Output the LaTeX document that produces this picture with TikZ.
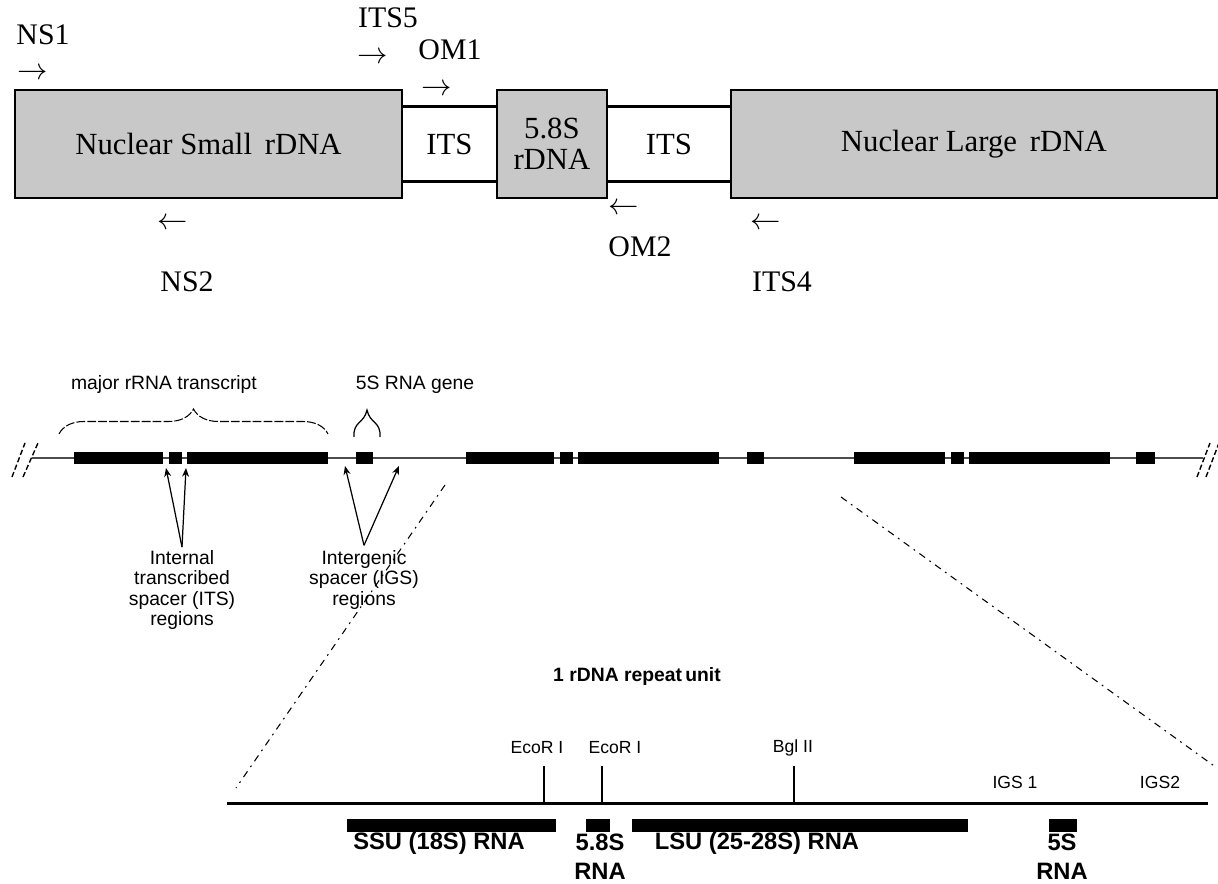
\documentclass[tikz,border=0pt]{standalone}
\usepackage{fontspec}
\setmainfont{Liberation Serif}
\setsansfont{Liberation Sans}
\usetikzlibrary{arrows.meta, positioning, decorations.pathreplacing}
\definecolor{cajagris}{RGB}{200,200,200}

\begin{document}
\begin{tikzpicture}[
    x=0.02cm, y=-0.02cm,
    gbox/.style={
        draw, line width=0.05cm, fill=cajagris,
        minimum height=2.16cm, inner sep=0pt, outer sep=0pt,
        align=center, font=\fontsize{17.5}{20}\selectfont
    },
    wbox/.style={gbox, fill=white, minimum height=1.5cm},
    primer/.style={font=\fontsize{17}{20}\selectfont, inner sep=0pt, anchor=base},
    pflecha/.style={primer, text height=8pt, text depth=0pt},
    etiq/.style={font=\sffamily\fontsize{11}{11.4}\selectfont, align=center, inner sep=0pt},
    sitio/.style={font=\sffamily\fontsize{10}{12}\selectfont, inner sep=0pt},
    negr/.style={font=\sffamily\bfseries\fontsize{13.5}{16.5}\selectfont, align=center, inner sep=0pt},
    flecha/.style={-{Stealth[length=5pt, width=4pt]}, line width=0.7pt},
    zoomline/.style={dash pattern=on 4pt off 3pt on 1pt off 3pt, line width=0.6pt},
    corte/.style={dash pattern=on 3pt off 1.5pt, line width=0.8pt}
]
\useasboundingbox (0,0) rectangle (1218,884);

% Cajas superiores
\node[gbox, minimum width=7.74cm] (nss) at (208.5,144) {Nuclear Small\, rDNA};
\node[wbox, minimum width=1.90cm, right=0pt of nss] (its1) {ITS};
\node[gbox, minimum width=2.20cm, right=0pt of its1] (r58) {5.8S\\[-2pt]rDNA};
\node[wbox, minimum width=2.48cm, right=0pt of r58] (its2) {ITS};
\node[gbox, minimum width=9.72cm, right=0pt of its2] (nls) {Nuclear Large\, rDNA};

% Cebadores (anclados en la linea base)
\node[primer] (ns1) at (43,45) {NS1};
\node[pflecha] (ns1a) at (33,80) {$\rightarrow$};
\node[primer] (its5) at (388,28) {ITS5};
\node[pflecha] (its5a) at (373,64) {$\rightarrow$};
\node[primer] (om1) at (450,60) {OM1};
\node[pflecha] (om1a) at (437,96) {$\rightarrow$};
\node[pflecha] (ns2a) at (173,229.5) {$\leftarrow$};
\node[primer] (ns2) at (187,292) {NS2};
\node[pflecha] (om2a) at (624,214.5) {$\leftarrow$};
\node[primer] (om2) at (640,257) {OM2};
\node[pflecha] (its4a) at (766,229.5) {$\leftarrow$};
\node[primer] (its4) at (782,292) {ITS4};

% Cadena de repeticiones
\draw[line width=1.3pt, black!70] (32,458) -- (1203,458);
\foreach \a/\b in {74/163, 169/182, 187/328, 356/373, 466/554, 560/573,
                   578/719, 747/764, 854/945, 951/964, 969/1110, 1136/1155}
    \fill (\a,452) rectangle (\b,464);
\draw[corte] (12,477) -- (25,443);
\draw[corte] (23,477) -- (38,443);
\draw[corte] (1197,477) -- (1210,443);
\draw[corte] (1206,477) -- (1219,443);

% Llaves
\draw[decorate, decoration={brace, amplitude=0.5cm}, dash pattern=on 5pt off 1.2pt, line width=0.6pt]
    (59,434) -- (328,434);
\node[etiq] (major) at (164,385) {major rRNA transcript};
\draw[line width=0.7pt] (354,437) .. controls (353,421) and (364,424) .. (367,410)
    .. controls (370,424) and (381,421) .. (380,437);
\node[etiq] (gen5s) at (415,385) {5S RNA gene};

% Flechas hacia los espaciadores
\coordinate (itsA) at (166,468);
\coordinate (itsB) at (186,468);
\coordinate (igsA) at (345,466);
\coordinate (igsB) at (399,466);
\node[etiq] (its) at (182,590) {Internal\\transcribed\\spacer (ITS)\\regions};
\node[etiq] (igs) at (364,580) {Intergenic\\spacer (IGS)\\regions};
\draw[flecha] ([yshift=2pt]its.north) -- (itsA);
\draw[flecha] ([yshift=2pt]its.north) -- (itsB);
\draw[flecha] ([yshift=3pt]igs.north) -- (igsA);
\draw[flecha] ([yshift=3pt]igs.north) -- (igsB);

% Lineas de ampliacion
\draw[zoomline] (445,485) -- (236,788);
\draw[zoomline] (841,497) -- (1217,768);

% Unidad ampliada
\node[font=\sffamily\bfseries\fontsize{11}{13}\selectfont, inner sep=0pt] (unidad) at (637,677) {1 rDNA repeat\,unit};
\draw[line width=0.06cm] (227,804) -- (1208,804);
\node[sitio] (eco1) at (537,748) {EcoR I};
\node[sitio] (eco2) at (615,748) {EcoR I};
\node[sitio] (bgl) at (793,748) {Bgl II};
\draw[line width=0.8pt] (544,766) -- (544,804);
\draw[line width=0.8pt] (602,766) -- (602,804);
\draw[line width=0.8pt] (794,766) -- (794,804);
\node[sitio] (igs1) at (1015,782) {IGS 1};
\node[sitio] (igs2) at (1160,782) {IGS2};

\fill (347,819) rectangle (556,832);
\fill (586,819) rectangle (610,832);
\fill (632,819) rectangle (968,832);
\fill (1049,819) rectangle (1077,832);
\node[negr] (ssu) at (439,843) {SSU (18S) RNA};
\node[negr] (r58b) at (600,857) {5.8S\\RNA};
\node[negr] (lsu) at (757,843) {LSU (25-28S) RNA};
\node[negr] (r5s) at (1062,857) {5S\\RNA};

\end{tikzpicture}
\end{document}
